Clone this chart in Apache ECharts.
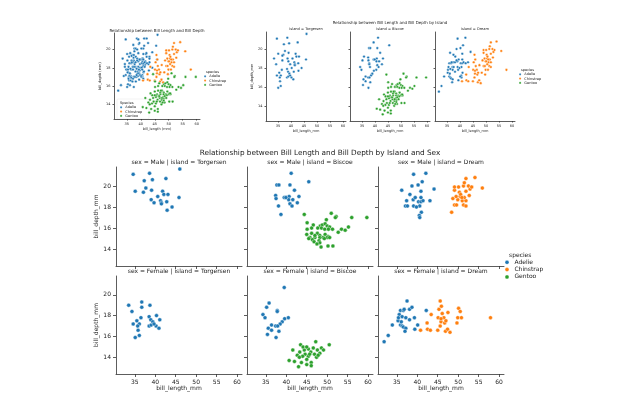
<!DOCTYPE html>
<html><head><meta charset="utf-8">
<script src="https://cdn.jsdelivr.net/npm/echarts@6/dist/echarts.min.js"></script>
<style>html,body{margin:0;padding:0;background:#fff}#c{width:640px;height:400px}</style>
</head><body><div id="c"></div>
<script>
const speciesNames = ['Adelie', 'Chinstrap', 'Gentoo'];
const islands = ['Torgersen', 'Biscoe', 'Dream'];
const sexes = ['Male', 'Female'];
const xTicks = [35, 40, 45, 50, 55, 60];
const yTicks = [14, 16, 18, 20];

// [bill_length_mm, bill_depth_mm]
const maleTorgersenAdelie = [[34.6,21.1],[35.1,19.5],[37.3,20.5],[37.1,19.4],[37.7,19.8],[38.6,21.2],[39.3,20.6],[39.1,19.6],[39.0,18.7],[39.7,18.4],[40.6,19.0],[41.3,18.6],[41.5,18.4],[41.8,19.5],[42.1,19.2],[42.6,20.7],[42.8,18.5],[43.1,19.2],[42.9,17.7],[44.1,18.0],[46.0,21.6],[45.8,18.9],[41.5,18.3]];
const maleBiscoeAdelie = [[41.2,21.2],[45.5,20.4],[37.7,20.1],[38.2,20.1],[40.9,20.1],[37.4,19.1],[42.0,19.6],[37.5,18.8],[39.5,18.9],[40.1,18.9],[40.7,19.0],[40.6,18.7],[41.6,18.7],[43.1,19.0],[40.9,18.3],[41.4,18.1],[42.7,18.4],[38.1,18.1],[38.7,17.3],[39.9,18.9]];
const maleBiscoeGentoo = [[44.4,17.3],[51.0,17.4],[52.2,17.1],[52.0,17.0],[56.0,17.0],[59.7,17.0],[49.8,16.8],[45.1,16.5],[46.6,16.3],[48.3,16.2],[48.8,16.3],[49.5,16.4],[50.0,16.2],[50.6,16.1],[45.1,15.9],[46.2,16.0],[47.7,16.0],[48.6,16.0],[49.4,15.9],[50.3,15.9],[51.3,15.9],[53.5,15.9],[54.4,15.8],[55.2,16.1],[52.7,15.6],[45.0,15.4],[46.2,15.5],[47.6,15.5],[48.2,15.3],[49.5,15.4],[50.2,15.2],[45.8,15.1],[47.0,15.1],[48.2,15.1],[49.0,15.1],[50.0,15.1],[50.6,15.1],[45.5,15.0],[46.4,14.9],[48.0,14.8],[49.3,15.0],[48.2,14.6],[46.8,14.7],[47.5,14.5],[48.5,14.2],[50.2,14.3],[51.4,14.3],[47.0,15.3]];
const maleDreamAdelie = [[39.1,21.1],[42.1,21.2],[38.7,20.0],[40.2,20.1],[41.2,20.4],[36.2,19.6],[44.1,19.7],[38.2,19.2],[40.9,19.5],[37.4,18.6],[39.0,18.7],[39.5,18.9],[40.3,18.5],[40.9,18.5],[41.4,18.6],[43.1,18.6],[40.9,18.9],[37.1,18.1],[37.6,18.1],[39.1,18.1],[40.6,18.1],[41.0,17.5],[40.5,17.2],[40.6,17.0],[39.8,18.0]];
const maleDreamChinstrap = [[48.4,17.5],[49.1,18.2],[49.6,18.2],[51.3,18.2],[51.9,18.1],[49.9,18.7],[51.0,18.6],[51.9,18.6],[49.5,19.0],[50.5,19.0],[51.5,18.9],[52.7,19.1],[49.1,19.6],[50.3,19.4],[51.9,19.5],[52.9,19.7],[49.1,19.9],[50.1,19.9],[51.3,20.0],[52.5,20.0],[53.3,19.9],[51.5,20.3],[51.9,20.7],[54.1,20.8],[55.9,19.8],[50.6,19.2],[50.9,18.9],[48.7,18.8]];
const femaleTorgersenAdelie = [[33.5,19.0],[34.3,18.4],[36.7,19.3],[36.7,18.8],[38.7,19.0],[36.5,17.8],[38.5,17.9],[38.9,17.6],[40.3,18.0],[41.1,17.6],[35.5,17.5],[34.6,17.2],[36.1,17.2],[35.7,17.0],[38.5,17.0],[39.0,17.1],[39.4,17.4],[40.2,17.0],[40.9,16.8],[35.8,16.6],[36.1,16.1],[35.1,15.9],[39.7,17.2]];
const femaleBiscoeAdelie = [[39.5,20.7],[35.8,19.2],[35.2,18.8],[37.8,18.5],[37.8,18.4],[34.3,18.1],[34.8,17.8],[40.5,17.8],[39.6,17.7],[39.0,17.4],[38.5,17.2],[35.6,16.8],[36.4,17.1],[37.4,17.0],[37.9,17.0],[36.4,16.6],[38.2,16.5],[35.4,16.2],[37.5,15.9]];
const femaleBiscoeGentoo = [[43.5,15.2],[41.6,14.7],[50.5,15.2],[47.2,15.5],[44.4,14.7],[45.4,14.8],[46.6,14.9],[48.6,14.9],[47.6,14.7],[49.1,14.7],[43.3,14.5],[44.6,14.3],[46.0,14.5],[46.9,14.3],[48.2,14.4],[42.7,14.2],[44.0,14.1],[45.4,14.1],[47.4,14.0],[43.2,14.0],[45.0,13.8],[40.7,13.7],[42.0,13.6],[43.7,13.5],[46.1,13.5],[45.0,13.3],[43.0,13.1],[46.1,13.2],[45.7,14.3],[47.8,14.2],[44.1,15.0],[45.0,15.0]];
const femaleDreamAdelie = [[31.9,15.5],[32.9,16.1],[33.9,17.1],[35.3,17.5],[35.6,18.1],[35.9,18.5],[36.6,18.5],[36.8,18.6],[37.5,19.4],[38.1,18.6],[38.7,18.8],[35.4,17.8],[36.3,17.9],[37.2,17.8],[38.1,17.6],[39.3,17.8],[35.9,17.1],[36.3,17.0],[36.6,16.9],[37.2,16.8],[37.0,16.5],[39.4,16.7],[40.1,17.1],[42.2,18.5],[36.1,17.4]];
const femaleDreamChinstrap = [[40.8,16.6],[42.4,17.3],[42.5,16.7],[43.2,16.6],[43.4,18.1],[45.0,16.6],[45.1,17.8],[45.3,18.6],[45.6,17.0],[45.6,19.4],[45.8,17.4],[45.9,18.9],[46.1,18.2],[46.5,17.8],[46.7,17.3],[46.9,16.5],[47.0,17.5],[47.5,18.3],[47.4,16.7],[48.0,16.4],[49.7,17.3],[50.1,18.7],[50.5,18.4],[49.9,17.8],[50.8,17.8],[57.9,17.8],[45.8,17.7]];

const colors = {Adelie:'#1f77b4', Chinstrap:'#ff7f0e', Gentoo:'#2ca02c'};
const panels = {
  Male: {Torgersen:{Adelie:maleTorgersenAdelie}, Biscoe:{Adelie:maleBiscoeAdelie, Gentoo:maleBiscoeGentoo}, Dream:{Adelie:maleDreamAdelie, Chinstrap:maleDreamChinstrap}},
  Female: {Torgersen:{Adelie:femaleTorgersenAdelie}, Biscoe:{Adelie:femaleBiscoeAdelie, Gentoo:femaleBiscoeGentoo}, Dream:{Adelie:femaleDreamAdelie, Chinstrap:femaleDreamChinstrap}}
};

const FONT = 'DejaVu Sans';
const grids = [], xAxis = [], yAxis = [], series = [], graphic = [];
function addGrid(g, fs, showX, showY, xName, yName, tickLen, yGap) {
  const i = grids.length;
  grids.push(Object.assign({containLabel:false}, g));
  const common = {type:'value', gridIndex:i, splitLine:{show:false},
    axisLine:{show:true, lineStyle:{color:'#333', width:0.8}},
    axisTick:{show:true, inside:false, length:tickLen, lineStyle:{color:'#333', width:0.8}},
    nameTextStyle:{fontFamily:FONT, fontSize:fs, color:'#222'}};
  xAxis.push(Object.assign({}, common, {min:30.4, max:61.2, name:xName, nameLocation:'middle', nameGap:fs+5,
    axisTick:Object.assign({}, common.axisTick, {customValues:xTicks}),
    axisLabel:{show:showX, customValues:xTicks, fontFamily:FONT, fontSize:fs, color:'#222', margin:tickLen+2}}));
  yAxis.push(Object.assign({}, common, {min:12.4, max:21.8, name:yName, nameLocation:'middle', nameGap:yGap,
    axisTick:Object.assign({}, common.axisTick, {customValues:yTicks}),
    axisLabel:{show:showY, customValues:yTicks, fontFamily:FONT, fontSize:fs, color:'#222', margin:tickLen+2}}));
  return i;
}
function addPoints(i, sp, data, size) {
  series.push({type:'scatter', name:sp, xAxisIndex:i, yAxisIndex:i, data:data, symbolSize:size,
    itemStyle:{color:colors[sp], borderColor:'#fff', borderWidth:0.4, opacity:1}, silent:true});
}
function legendBlock(x, y, fs, gap, title, r, tx) {
  graphic.push({type:'text', x:tx, y:y, style:{text:title, fontFamily:FONT, fontSize:fs, fill:'#222', textAlign:'left', textVerticalAlign:'middle'}});
  speciesNames.forEach((sp, k) => {
    const yy = y + gap*(k+1);
    graphic.push({type:'circle', shape:{cx:x+r, cy:yy, r:r}, style:{fill:colors[sp], stroke:'#fff', lineWidth:0.3}});
    graphic.push({type:'text', x:x+r*2+fs*0.9, y:yy, style:{text:sp, fontFamily:FONT, fontSize:fs, fill:'#222', textAlign:'left', textVerticalAlign:'middle'}});
  });
}

// ---- Top-left figure: all penguins
const g0 = addGrid({left:114, top:33, width:86, height:86}, 3.5, true, true, 'bill_length (mm)', 'bill_depth (mm)', 1.5, 9);
speciesNames.forEach(sp => {
  let all = [];
  sexes.forEach(s => islands.forEach(isl => { if (panels[s][isl][sp]) all = all.concat(panels[s][isl][sp]); }));
  addPoints(g0, sp, all, 2.6);
});
graphic.push({type:'text', x:157, y:31, style:{text:'Relationship between Bill Length and Bill Depth', fontFamily:FONT, fontSize:4, fill:'#222', textAlign:'center', textVerticalAlign:'middle'}});
graphic.push({type:'rect', shape:{x:117, y:99, width:32, height:20, r:1}, style:{fill:'rgba(255,255,255,0.8)', stroke:'#ddd', lineWidth:0.4}});
legendBlock(120, 103, 3.5, 4.3, 'Species', 1.1, 120);
legendBlock(204, 72, 3.5, 4.3, 'species', 1.1, 206);

// ---- Top-middle figure: by island
const topLefts = [266, 350, 435];
islands.forEach((isl, j) => {
  const gi = addGrid({left:topLefts[j], top:32, width:80, height:89}, 3.5, true, j===0, 'bill_length_mm', j===0 ? 'bill_depth_mm' : '', 1.5, 9);
  speciesNames.forEach(sp => {
    let all = [];
    sexes.forEach(s => { if (panels[s][isl][sp]) all = all.concat(panels[s][isl][sp]); });
    if (all.length) addPoints(gi, sp, all, 2.6);
  });
  graphic.push({type:'text', x:topLefts[j]+40, y:29, style:{text:'island = ' + isl, fontFamily:FONT, fontSize:3.6, fill:'#222', textAlign:'center', textVerticalAlign:'middle'}});
});
graphic.push({type:'text', x:390, y:23, style:{text:'Relationship between Bill Length and Bill Depth by Island', fontFamily:FONT, fontSize:4, fill:'#222', textAlign:'center', textVerticalAlign:'middle'}});
legendBlock(519, 70, 3.5, 4.3, 'species', 1.1, 521);

// ---- Bottom figure: by island and sex
const botLefts = [116, 247, 378];
const botTops = [167, 276];
sexes.forEach((s, r) => {
  islands.forEach((isl, j) => {
    const gi = addGrid({left:botLefts[j], top:botTops[r], width:126, height:r===0 ? 99 : 98}, 6,
      r===1, j===0, r===1 ? 'bill_length_mm' : '', j===0 ? 'bill_depth_mm' : '', 3, 17);
    speciesNames.forEach(sp => { if (panels[s][isl][sp]) addPoints(gi, sp, panels[s][isl][sp], 4); });
    graphic.push({type:'text', x:botLefts[j]+63, y:botTops[r]-5, style:{text:'sex = ' + s + ' | island = ' + isl, fontFamily:FONT, fontSize:6, fill:'#222', textAlign:'center', textVerticalAlign:'middle'}});
  });
});
graphic.push({type:'text', x:320, y:153, style:{text:'Relationship between Bill Length and Bill Depth by Island and Sex', fontFamily:FONT, fontSize:7.3, fill:'#222', textAlign:'center', textVerticalAlign:'middle'}});
legendBlock(505, 255, 6, 7.3, 'species', 2, 509);

const chart = echarts.init(document.getElementById('c'), null, {renderer:'canvas'});
chart.setOption({animation:false, backgroundColor:'#fff', grid:grids, xAxis:xAxis, yAxis:yAxis, series:series, graphic:graphic});
</script></body></html>
